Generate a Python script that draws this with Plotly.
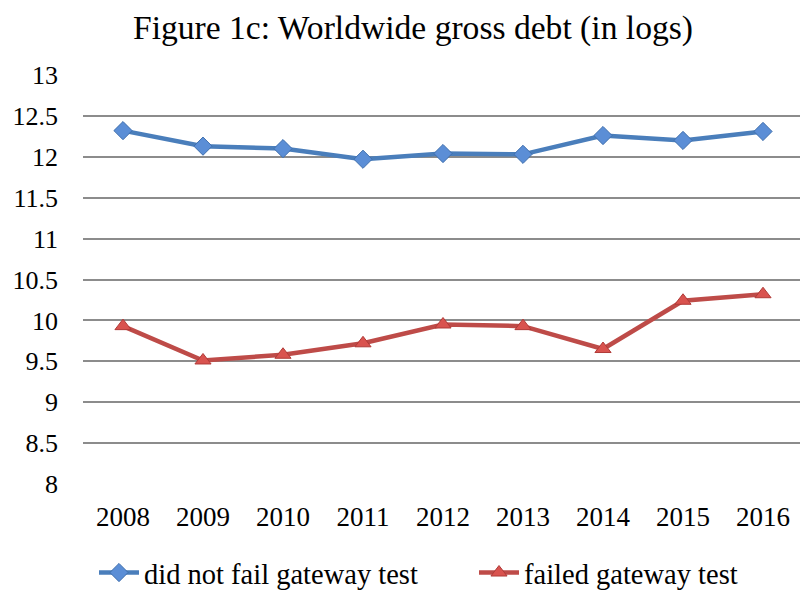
import plotly.graph_objects as go

years = ["2008", "2009", "2010", "2011", "2012", "2013", "2014", "2015", "2016"]
not_failed = [12.32, 12.13, 12.10, 11.97, 12.04, 12.03, 12.26, 12.20, 12.31]
failed = [9.93, 9.51, 9.58, 9.72, 9.95, 9.93, 9.65, 10.24, 10.32]
y_ticks = [8, 8.5, 9, 9.5, 10, 10.5, 11, 11.5, 12, 12.5, 13]

FONT = "Liberation Serif"

fig = go.Figure()
fig.add_trace(go.Scatter(
    x=list(range(len(years))), y=not_failed, mode="lines+markers",
    name="did not fail gateway test", legend="legend",
    line=dict(color="#4A7EBB", width=4.5),
    marker=dict(symbol="diamond", size=14, color="#5B8ED6", line=dict(color="#3F6FAD", width=1)),
))
fig.add_trace(go.Scatter(
    x=list(range(len(years))), y=failed, mode="lines+markers",
    name="failed gateway test", legend="legend2",
    line=dict(color="#BE4B48", width=4.5),
    marker=dict(symbol="triangle-up", size=14, color="#D9534F", line=dict(color="#B03A37", width=1)),
))

legend_common = dict(orientation="h", xref="container", yref="container",
                     xanchor="left", y=1 - 573 / 590, yanchor="middle",
                     font=dict(family=FONT, size=28.5), itemwidth=40,
                     bgcolor="rgba(0,0,0,0)")

fig.update_layout(
    width=800, height=590,
    margin=dict(l=83, r=0, t=75, b=106, autoexpand=False),
    paper_bgcolor="white", plot_bgcolor="white",
    font=dict(family=FONT, size=27, color="black"),
    title=dict(text="Figure 1c: Worldwide gross debt (in logs)", x=413 / 800, xanchor="center",
               xref="container",
               y=0.953, yanchor="middle", font=dict(family=FONT, size=33.6, color="black")),
    xaxis=dict(
        tickmode="array", tickvals=list(range(len(years))), ticktext=years,
        range=[-0.5, 8.4625], showgrid=False, zeroline=False, showline=False,
        ticks="", ticklabelstandoff=14, fixedrange=True,
    ),
    yaxis=dict(
        range=[8, 13], tickvals=y_ticks, ticktext=[f"{v:g}" for v in y_ticks],
        showgrid=True, gridcolor="#8C8C8C", gridwidth=1.5, zeroline=False, showline=False,
        ticks="", ticklabelstandoff=24, tickfont=dict(size=26),
    ),
    legend=dict(x=94 / 800, **legend_common),
    legend2=dict(x=474 / 800, **legend_common),
    showlegend=True,
)
fig.write_html("out.html")
